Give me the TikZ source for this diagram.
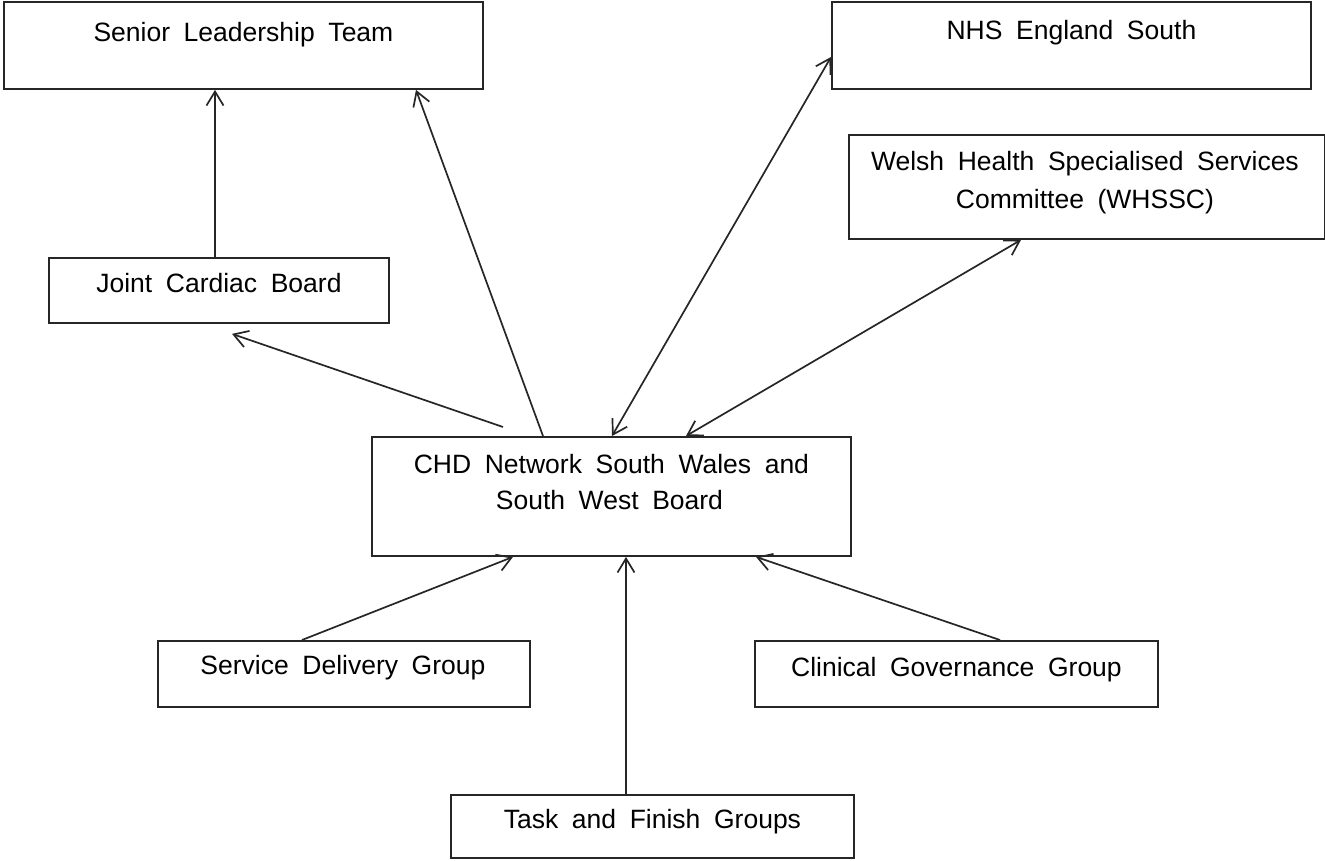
\documentclass[tikz,border=0pt]{standalone}
\usepackage{fontspec}
\setmainfont{Liberation Sans}[WordSpace=1.85]
\usetikzlibrary{arrows.meta}
\begin{document}
\begin{tikzpicture}[x=1pt,y=-1pt,
  box/.style={draw=black!85, line width=1.9pt, rectangle, anchor=north west, inner sep=0pt},
  lbl/.style={anchor=base, font=\fontsize{26.5}{37}\selectfont, align=center, inner sep=0pt},
  conn/.style={draw=black!85, line width=1.7pt, -{Straight Barb[length=14pt,width=17pt]}},
  conn2/.style={draw=black!85, line width=1.7pt, {Straight Barb[length=14pt,width=17pt]}-{Straight Barb[length=14pt,width=17pt]}}]
\useasboundingbox (0,0) rectangle (1325,861);
% boxes
\node[box, minimum width=479pt, minimum height=87pt] (slt) at (3,1) {};
\node[box, minimum width=479pt, minimum height=87pt] (nhs) at (831,1) {};
\node[box, minimum width=476pt, minimum height=104pt] (wh) at (848,134) {};
\node[box, minimum width=340pt, minimum height=65pt] (jcb) at (48,257) {};
\node[box, minimum width=479pt, minimum height=119pt] (chd) at (371,436) {};
\node[box, minimum width=372pt, minimum height=66pt] (sdg) at (157,640) {};
\node[box, minimum width=403pt, minimum height=66pt] (cgg) at (754,640) {};
\node[box, minimum width=403pt, minimum height=63pt] (tfg) at (450,794) {};
% labels
\node[lbl] (tslt) at ([shift={(0,41)}]slt.north) {Senior Leadership Team};
\node[lbl] (tnhs) at ([shift={(0,39)}]nhs.north) {NHS England South};
\node[lbl] (twh1) at ([shift={(-2,37)}]wh.north) {Welsh Health Specialised Services};
\node[lbl] (twh2) at ([shift={(-2,74)}]wh.north) {Committee (WHSSC)};
\node[lbl] (tjcb) at ([shift={(0,35)}]jcb.north) {Joint Cardiac Board};
\node[lbl] (tchd1) at ([shift={(0,37)}]chd.north) {CHD Network South Wales and};
\node[lbl] (tchd2) at ([shift={(-2,73)}]chd.north) {South West Board};
\node[lbl] (tsdg) at ([shift={(-1,34)}]sdg.north) {Service Delivery Group};
\node[lbl] (tcgg) at ([shift={(0,36)}]cgg.north) {Clinical Governance Group};
\node[lbl] (ttfg) at ([shift={(0,34)}]tfg.north) {Task and Finish Groups};
% connectors
\draw[conn] ([shift={(167,0)}]jcb.north west) -- ([shift={(212,0)}]slt.south west);
\draw[conn] ([shift={(172,0)}]chd.north west) -- ([shift={(413,0)}]slt.south west);
\draw[conn] ([shift={(132,-9)}]chd.north west) -- ([shift={(184,10)}]jcb.south west);
\draw[conn2] ([shift={(241,0)}]chd.north west) -- ([shift={(0,56)}]nhs.north west);
\draw[conn2] ([shift={(315,0)}]chd.north west) -- ([shift={(173,0)}]wh.south west);
\draw[conn] ([shift={(145,0)}]sdg.north west) -- ([shift={(142,0)}]chd.south west);
\draw[conn] ([shift={(176,0)}]tfg.north west) -- ([shift={(255,0)}]chd.south west);
\draw[conn] ([shift={(246,0)}]cgg.north west) -- ([shift={(385,0)}]chd.south west);
\end{tikzpicture}
\end{document}
